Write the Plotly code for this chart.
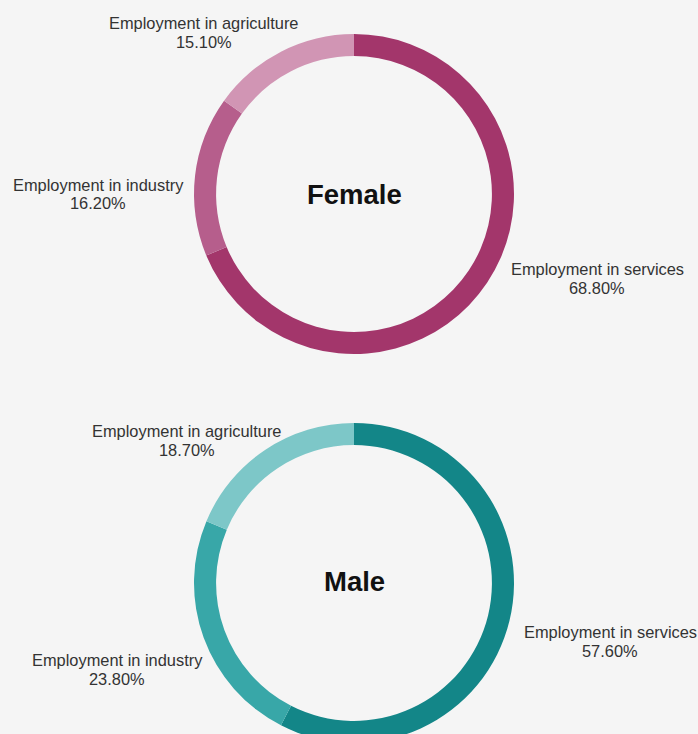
import plotly.graph_objects as go

W, H = 698, 744  # figure is slightly taller than the window; bottom of the male ring is cropped as in the reference

categories = ["Employment in services", "Employment in industry", "Employment in agriculture"]
female_values = [68.8, 16.2, 15.1]
male_values = [57.6, 23.8, 18.7]
female_colors = ["#A3366B", "#B65E8C", "#D195B4"]
male_colors = ["#138688", "#38A7A8", "#7DC7C8"]

# label centre positions in pixels (layout only)
female_label_pos = [(597, 278), (98, 194), (204, 32)]
male_label_pos = [(610, 641), (117, 669), (187, 440)]

def px(x):
    return x / W

def py(y):
    return 1 - y / H

fig = go.Figure()
fig.add_trace(go.Pie(
    labels=categories, values=female_values, hole=0.862, sort=False,
    direction="clockwise", rotation=0, textinfo="none", showlegend=False,
    marker=dict(colors=female_colors, line=dict(width=0)),
    domain=dict(x=[px(194), px(514)], y=[py(354), py(34)]),
))
fig.add_trace(go.Pie(
    labels=categories, values=male_values, hole=0.862, sort=False,
    direction="clockwise", rotation=0, textinfo="none", showlegend=False,
    marker=dict(colors=male_colors, line=dict(width=0)),
    domain=dict(x=[px(194), px(514)], y=[0, py(422)]),
))

annotations = []
font = dict(family="Arial, Liberation Sans, sans-serif", size=16.4, color="#333333")
for cats, vals, pos in ((categories, female_values, female_label_pos),
                        (categories, male_values, male_label_pos)):
    for c, v, (x, y) in zip(cats, vals, pos):
        annotations.append(dict(
            text=c, x=px(x), y=py(y - 9), xref="paper", yref="paper",
            xanchor="center", yanchor="middle", showarrow=False, font=font))
        annotations.append(dict(
            text=f"{v:.2f}%", x=px(x), y=py(y + 9.5), xref="paper", yref="paper",
            xanchor="center", yanchor="middle", showarrow=False, font=font))

title_font = dict(family="Arial, Liberation Sans, sans-serif", size=27.5, color="#111111")
annotations.append(dict(text="<b>Female</b>", x=px(354), y=py(194), xref="paper", yref="paper",
                        showarrow=False, xanchor="center", yanchor="middle", font=title_font))
annotations.append(dict(text="<b>Male</b>", x=px(354), y=py(581), xref="paper", yref="paper",
                        showarrow=False, xanchor="center", yanchor="middle", font=title_font))

fig.update_layout(
    width=W, height=H, margin=dict(l=0, r=0, t=0, b=0),
    paper_bgcolor="#F5F5F5", plot_bgcolor="#F5F5F5",
    annotations=annotations,
)

fig.write_html("out.html", config={"displayModeBar": False},
               post_script="document.body.style.margin='0';document.body.style.overflow='hidden';"
                           "document.documentElement.style.overflow='hidden';"
                           "document.body.style.background='#F5F5F5';")
